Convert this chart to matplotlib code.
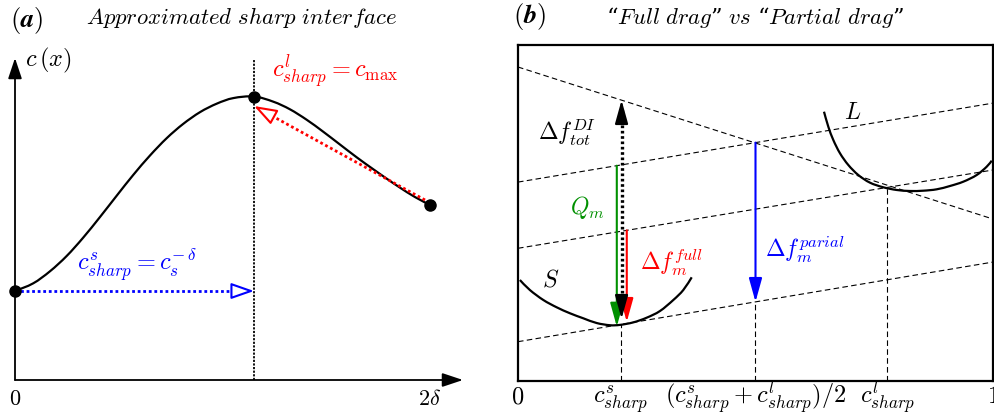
import matplotlib
matplotlib.use('Agg')
import matplotlib.pyplot as plt
from matplotlib.path import Path
from matplotlib.patches import PathPatch

plt.rcParams['mathtext.fontset'] = 'cm'
plt.rcParams['font.family'] = ['DejaVu Serif']

# ---------------- data: panel (a) ----------------
a_x = [0.0, 0.088, 0.169, 0.249, 0.328, 0.410, 0.492, 0.570, 0.651, 0.731,
       0.810, 0.892, 0.973, 1.052, 1.152, 1.245, 1.325, 1.406, 1.484, 1.566,
       1.648, 1.727, 1.793, 1.855, 1.928, 2.0]
a_c = [0.89, 0.967, 1.088, 1.24, 1.422, 1.631, 1.848, 2.051, 2.246, 2.418,
       2.56, 2.679, 2.764, 2.819, 2.835, 2.783, 2.707, 2.602, 2.485, 2.355,
       2.225, 2.107, 2.011, 1.924, 1.829, 1.75]
a_interface = 1.152        # x position of the sharp interface
a_end = 2.0                # 2 delta
a_c_solid = 0.89           # c at x = 0
a_c_max = 2.835            # c at the interface
a_c_end = 1.75             # c at x = 2 delta
a_xlabels = ['$0$', r'$2\delta$']
a_xlabel_pos = [0.0, 2.0]

# ---------------- data: panel (b) ----------------
b_ticks = [0.0, 0.217, 0.5, 0.7775, 1.0]
b_ticklabels = ['$0$', r'$c^{s}_{sharp}$', r'$(c^{s}_{sharp}+c^{l}_{sharp})/2$',
                r'$c^{l}_{sharp}$', '$1$']
# straight dashed lines: (intercept, slope)
line_desc = (0.9345, -0.4525)
line_upper = (0.592, 0.235)
line_mid = (0.395, 0.233)
line_low = (0.117, 0.237)

S_x = [0.004, 0.025, 0.0533, 0.0815, 0.1095, 0.1375, 0.1657, 0.1937, 0.2147,
       0.2428, 0.2709, 0.2989, 0.3270, 0.3480, 0.3657]
S_y = [0.3006, 0.2708, 0.2411, 0.2193, 0.2015, 0.1866, 0.1725, 0.1660, 0.1670,
       0.1745, 0.1884, 0.2083, 0.2411, 0.2708, 0.3086]
L_x = [0.6442, 0.6533, 0.6638, 0.6779, 0.6954, 0.7164, 0.7411, 0.7691, 0.7973,
       0.8253, 0.8533, 0.8815, 0.9095, 0.9375, 0.9657, 0.9867, 0.9973]
L_y = [0.8015, 0.7568, 0.7173, 0.6777, 0.6429, 0.6131, 0.5902, 0.5765, 0.5685,
       0.5655, 0.5664, 0.5705, 0.5804, 0.5932, 0.6131, 0.6378, 0.6557]

x_green, x_black, x_red = 0.208, 0.218, 0.229
y_green_end, y_black_end, y_red_end = 0.162, 0.185, 0.176

GREEN = '#009000'


def lin(line, x):
    return line[0] + line[1] * x


def smooth_curve(ax, xs, ys, **kw):
    """Draw a smooth (Catmull-Rom style Bezier) path through the read points."""
    n = len(xs)
    pts = list(zip(xs, ys))
    verts = [pts[0]]
    codes = [Path.MOVETO]
    for i in range(n - 1):
        p0 = pts[i - 1] if i > 0 else pts[i]
        p1, p2 = pts[i], pts[i + 1]
        p3 = pts[i + 2] if i + 2 < n else pts[i + 1]
        c1 = (p1[0] + (p2[0] - p0[0]) / 6, p1[1] + (p2[1] - p0[1]) / 6)
        c2 = (p2[0] - (p3[0] - p1[0]) / 6, p2[1] - (p3[1] - p1[1]) / 6)
        verts += [c1, c2, p2]
        codes += [Path.CURVE4] * 3
    ax.add_patch(PathPatch(Path(verts, codes), fill=False, **kw))


W, H = 995, 416
fig = plt.figure(figsize=(W / 100, H / 100), dpi=100)

# ================= panel (a) =================
pxu, pyu = 207.5, 100.0        # pixels per data unit
x0p, y0p = 15, 380             # pixel of data origin
axa = fig.add_axes([0, 0, 480 / W, (H - 40) / H])
axa.set_xlim(-x0p / pxu, (480 - x0p) / pxu)
axa.set_ylim((y0p - H) / pyu, (y0p - 40) / pyu)
axa.axis('off')

axis_head = '-|>,head_length=0.9,head_width=0.3'
axa.annotate('', xy=(0, (y0p - 58) / pyu), xytext=(0, 0),
             arrowprops=dict(arrowstyle=axis_head, color='black', lw=1.3,
                             shrinkA=0, shrinkB=0, mutation_scale=14))
axa.annotate('', xy=((463 - x0p) / pxu, 0), xytext=(0, 0),
             arrowprops=dict(arrowstyle=axis_head, color='black', lw=1.3,
                             shrinkA=0, shrinkB=0, mutation_scale=14))
# interface line
axa.plot([a_interface, a_interface], [0, (y0p - 60) / pyu], color='black',
         lw=1.3, ls=(0, (1.2, 0.8)))
# curve
smooth_curve(axa, a_x, a_c, color='black', lw=1.6, capstyle='round')

open_head = '-|>,head_length=1.0,head_width=0.35'
# blue dotted arrow
axa.plot([0, a_interface - 0.04], [a_c_solid, a_c_solid], color='blue',
         lw=2.0, ls=(0, (1, 1)))
axa.annotate('', xy=(a_interface, a_c_solid),
             xytext=(a_interface - 0.05, a_c_solid),
             arrowprops=dict(arrowstyle=open_head, fc='white', ec='blue', lw=1.5,
                             shrinkA=0, shrinkB=0, mutation_scale=14))
# red dotted arrow
rx0, ry0 = (425 - x0p) / pxu, (y0p - 200) / pyu
rx1, ry1 = a_interface, (y0p - 106) / pyu
slope_r = (ry0 - ry1) / (rx0 - rx1)
axa.plot([rx0, rx1 + 0.04], [ry0, ry1 + 0.04 * slope_r],
         color='red', lw=2.0, ls=(0, (1, 1)))
axa.annotate('', xy=(rx1, ry1), xytext=(rx1 + 0.05, ry1 + 0.05 * slope_r),
             arrowprops=dict(arrowstyle=open_head, fc='white', ec='red', lw=1.5,
                             shrinkA=0, shrinkB=0, mutation_scale=14))
# dots
axa.plot([0, a_interface, a_end], [a_c_solid, a_c_max, a_c_end], 'o',
         color='black', ms=8, zorder=5)

for xp, lab in zip(a_xlabel_pos, a_xlabels):
    axa.text(xp, -0.25, lab, ha='center', va='baseline', fontsize=16)
axa.text(0.05, (y0p - 60) / pyu, r'$c\,(x)$', ha='left', va='center', fontsize=17.5)
axa.text((272 - x0p) / pxu, (y0p - 72) / pyu, r'$c^{l}_{sharp}=c_{\max}$',
         color='red', ha='left', va='center', fontsize=17.5)
axa.text((77 - x0p) / pxu, (y0p - 265) / pyu, r'$c^{s}_{sharp}=c_{s}^{-\,\delta}$',
         color='blue', ha='left', va='center', fontsize=17.5)

fig.text(10 / W, 1 - 20 / H, r'$(\mathbfit{a})$', ha='left', va='center', fontsize=19)
fig.text(241 / W, 1 - 18 / H, r'$\mathit{Approximated\ sharp\ interface}$',
         ha='center', va='center', fontsize=16.4)

# ================= panel (b) =================
axb = fig.add_axes([518 / W, (H - 381) / H, 475 / W, 336 / H])
axb.set_xlim(0, 1)
axb.set_ylim(0, 1)
for sp in axb.spines.values():
    sp.set_linewidth(1.6)
axb.set_yticks([])
axb.set_xticks(b_ticks)
axb.set_xticklabels(b_ticklabels, fontsize=17.5)
axb.tick_params(axis='x', length=0, pad=16)
for t in axb.get_xticklabels():
    t.set_va('baseline')

xs = [0, 1]
dash = dict(color='black', lw=0.8, ls=(0, (5, 3)))
for ln in (line_desc, line_upper, line_mid, line_low):
    axb.plot(xs, [lin(ln, x) for x in xs], **dash)

xm = b_ticks[2]
xs_s, xs_l = b_ticks[1], b_ticks[3]
axb.plot([xs_s, xs_s], [0, lin(line_low, xs_s)], **dash)
axb.plot([xm, xm], [0, lin(line_low, xm)], **dash)
axb.plot([xs_l, xs_l], [0, lin(line_mid, xs_l)], **dash)

smooth_curve(axb, S_x, S_y, color='black', lw=1.6)
smooth_curve(axb, L_x, L_y, color='black', lw=1.6)

head = '-|>,head_length=0.9,head_width=0.25'
# blue arrow
axb.annotate('', xy=(xm, lin(line_low, xm)), xytext=(xm, lin(line_upper, xm)),
             arrowprops=dict(arrowstyle=head, color='blue', lw=1.5,
                             shrinkA=0, shrinkB=0, mutation_scale=16))
# green arrow
axb.annotate('', xy=(x_green, y_green_end), xytext=(x_green, lin(line_upper, x_green)),
             arrowprops=dict(arrowstyle=head, color=GREEN, lw=1.5,
                             shrinkA=0, shrinkB=0, mutation_scale=16))
# red arrow
axb.annotate('', xy=(x_red, y_red_end), xytext=(x_red, lin(line_mid, x_red)),
             arrowprops=dict(arrowstyle=head, color='red', lw=1.5,
                             shrinkA=0, shrinkB=0, mutation_scale=16))
# black dotted double arrow
ytop = lin(line_desc, x_black)
axb.plot([x_black, x_black], [y_black_end + 0.03, ytop - 0.03], color='black',
         lw=2.4, ls=(0, (0.8, 0.8)))
axb.annotate('', xy=(x_black, ytop), xytext=(x_black, ytop - 0.04),
             arrowprops=dict(arrowstyle=head, color='black', lw=1.5,
                             shrinkA=0, shrinkB=0, mutation_scale=16))
axb.annotate('', xy=(x_black, y_black_end), xytext=(x_black, y_black_end + 0.04),
             arrowprops=dict(arrowstyle=head, color='black', lw=1.5,
                             shrinkA=0, shrinkB=0, mutation_scale=16))

axb.text(0.042, 0.741, r'$\mathit{\Delta} f^{DI}_{tot}$', ha='left', va='center', fontsize=17)
axb.text(0.109, 0.515, r'$Q_m$', color=GREEN, ha='left', va='center', fontsize=17)
axb.text(0.257, 0.354, r'$\mathit{\Delta} f^{full}_{m}$', color='red', ha='left', va='center', fontsize=17)
axb.text(0.52, 0.39, r'$\mathit{\Delta} f^{parial}_{m}$', color='blue', ha='left', va='center', fontsize=17)
axb.text(0.069, 0.30, r'$S$', ha='center', va='center', fontsize=17)
axb.text(0.705, 0.80, r'$L$', ha='center', va='center', fontsize=17)

fig.text(513 / W, 1 - 16 / H, r'$(\mathbfit{b})$', ha='left', va='center', fontsize=19)
fig.text(755 / W, 1 - 18 / H, '\u201c' + r'$\mathit{Full\ drag}$' + '\u201d' + r'$\mathit{\ vs\ }$'
         + '\u201c' + r'$\mathit{Partial\ drag}$' + '\u201d',
         ha='center', va='center', fontsize=16.4)

fig.savefig('out.png', dpi=100)
